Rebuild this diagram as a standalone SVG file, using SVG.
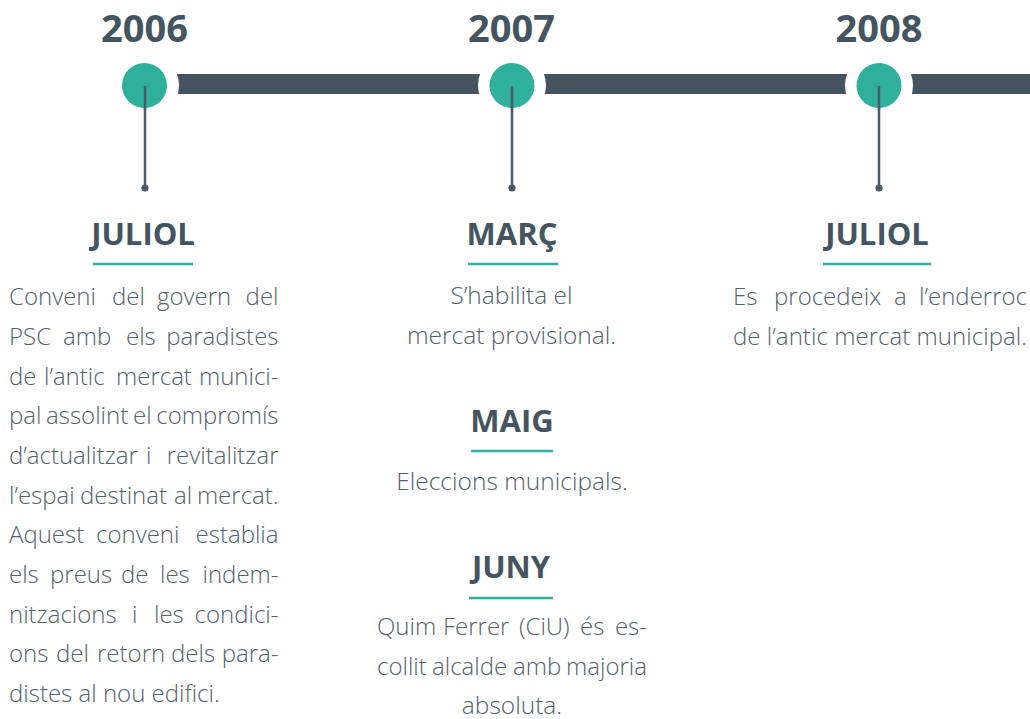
<svg xmlns="http://www.w3.org/2000/svg" width="1030" height="719" viewBox="0 0 1030 719">
<style>
.yr{font-family:"Open Sans","Liberation Sans",sans-serif;font-weight:700;font-size:38px;fill:#445461;text-anchor:middle}
.mo{font-family:"Open Sans","Liberation Sans",sans-serif;font-weight:700;font-size:31px;fill:#445461;text-anchor:middle}
.tx{font-family:"Open Sans","Liberation Sans",sans-serif;font-weight:300;font-size:24px;fill:#55616b}
.c{text-anchor:middle;font-size:24.5px}
.e{text-anchor:end}
.ul{stroke:#2fb09c;stroke-width:2.5}
.stem{stroke:#4b5a68;stroke-width:2.5}
.dot{fill:#4b5a68}
.node{fill:#2fb09c}
.gap{fill:#ffffff}
</style>
<rect width="1030" height="719" fill="#ffffff"/>
<g id="connectors">
  <rect x="150" y="74" width="880" height="20" fill="#44535f"/>
  <circle class="gap" cx="144.5" cy="85.5" r="34.5"/>
  <circle class="gap" cx="512" cy="85.5" r="34"/>
  <circle class="gap" cx="879" cy="85.5" r="34"/>
  <line class="stem" x1="145" y1="86" x2="145" y2="188"/>
  <circle class="dot" cx="145" cy="188" r="3.6"/>
  <line class="stem" x1="512" y1="86" x2="512" y2="188"/>
  <circle class="dot" cx="512" cy="188" r="3.6"/>
  <line class="stem" x1="879" y1="86" x2="879" y2="188"/>
  <circle class="dot" cx="879" cy="188" r="3.6"/>
</g>
<g id="node-2006">
  <circle class="node" cx="144.5" cy="85.5" r="22.5"/>
  <line class="stem" x1="145" y1="86" x2="145" y2="110"/>
  <text class="yr" x="144.5" y="42">2006</text>
  <text class="mo" x="143" y="245">JULIOL</text>
  <line class="ul" x1="93" y1="264" x2="193" y2="264"/>
  <text class="tx" y="305"><tspan x="9">Conveni</tspan><tspan x="112">del</tspan><tspan x="157">govern</tspan></text>
  <text class="tx e" x="278.5" y="305">del</text>
  <text class="tx" y="345"><tspan x="9">PSC</tspan><tspan x="63">amb</tspan><tspan x="126">els</tspan></text>
  <text class="tx e" x="278.5" y="345">paradistes</text>
  <text class="tx" y="384.5"><tspan x="9">de</tspan><tspan x="44">l’antic</tspan><tspan x="116">mercat</tspan></text>
  <text class="tx e" x="278.5" y="384.5">munici-</text>
  <text class="tx" y="424"><tspan x="9">pal</tspan><tspan x="46">assolint</tspan><tspan x="133">el</tspan></text>
  <text class="tx e" x="278.5" y="424">compromís</text>
  <text class="tx" y="464"><tspan x="9">d’actualitzar</tspan><tspan x="146">i</tspan></text>
  <text class="tx e" x="278.5" y="464">revitalitzar</text>
  <text class="tx" y="503.5"><tspan x="9">l’espai</tspan><tspan x="80">destinat</tspan><tspan x="174">al</tspan></text>
  <text class="tx e" x="278.5" y="503.5">mercat.</text>
  <text class="tx" y="543"><tspan x="9">Aquest</tspan><tspan x="96">conveni</tspan></text>
  <text class="tx e" x="278.5" y="543">establia</text>
  <text class="tx" y="583"><tspan x="9">els</tspan><tspan x="50">preus</tspan><tspan x="121">de</tspan><tspan x="160">les</tspan></text>
  <text class="tx e" x="278.5" y="583">indem-</text>
  <text class="tx" y="622.5"><tspan x="9">nitzacions</tspan><tspan x="132">i</tspan><tspan x="154">les</tspan></text>
  <text class="tx e" x="278.5" y="622.5">condici-</text>
  <text class="tx" y="662"><tspan x="9">ons</tspan><tspan x="56">del</tspan><tspan x="97">retorn</tspan><tspan x="171">dels</tspan></text>
  <text class="tx e" x="278.5" y="662">para-</text>
  <text class="tx" x="9" y="702">distes al nou edifici.</text>
</g>
<g id="node-2007">
  <circle class="node" cx="512" cy="85.5" r="22.5"/>
  <line class="stem" x1="512" y1="86" x2="512" y2="110"/>
  <text class="yr" x="511.5" y="42">2007</text>
  <text class="mo" x="512" y="245">MARÇ</text>
  <line class="ul" x1="468" y1="264" x2="558" y2="264"/>
  <text class="tx c" x="511.5" y="304">S’habilita el</text>
  <text class="tx c" x="511.5" y="343.5">mercat provisional.</text>
  <text class="mo" x="512" y="432">MAIG</text>
  <line class="ul" x1="471" y1="451" x2="553" y2="451"/>
  <text class="tx c" x="512" y="490">Eleccions municipals.</text>
  <text class="mo" x="511" y="578">JUNY</text>
  <line class="ul" x1="469" y1="598" x2="553" y2="598"/>
  <text class="tx" y="635"><tspan x="377">Quim</tspan><tspan x="443">Ferrer</tspan><tspan x="519">(CiU)</tspan><tspan x="580">és</tspan></text>
  <text class="tx e" x="647" y="635">es-</text>
  <text class="tx" y="674.5"><tspan x="377">collit</tspan><tspan x="432">alcalde</tspan><tspan x="513">amb</tspan></text>
  <text class="tx e" x="647" y="674.5">majoria</text>
  <text class="tx c" x="512" y="714">absoluta.</text>
</g>
<g id="node-2008">
  <circle class="node" cx="879" cy="85.5" r="22.5"/>
  <line class="stem" x1="879" y1="86" x2="879" y2="110"/>
  <text class="yr" x="879" y="42">2008</text>
  <text class="mo" x="877" y="245">JULIOL</text>
  <line class="ul" x1="823" y1="264" x2="931" y2="264"/>
  <text class="tx" y="305"><tspan x="733">Es</tspan><tspan x="774">procedeix</tspan><tspan x="894">a</tspan></text>
  <text class="tx e" x="1027" y="305">l’enderroc</text>
  <text class="tx" x="733" y="345" textLength="294" lengthAdjust="spacing">de l’antic mercat municipal.</text>
</g>
</svg>
